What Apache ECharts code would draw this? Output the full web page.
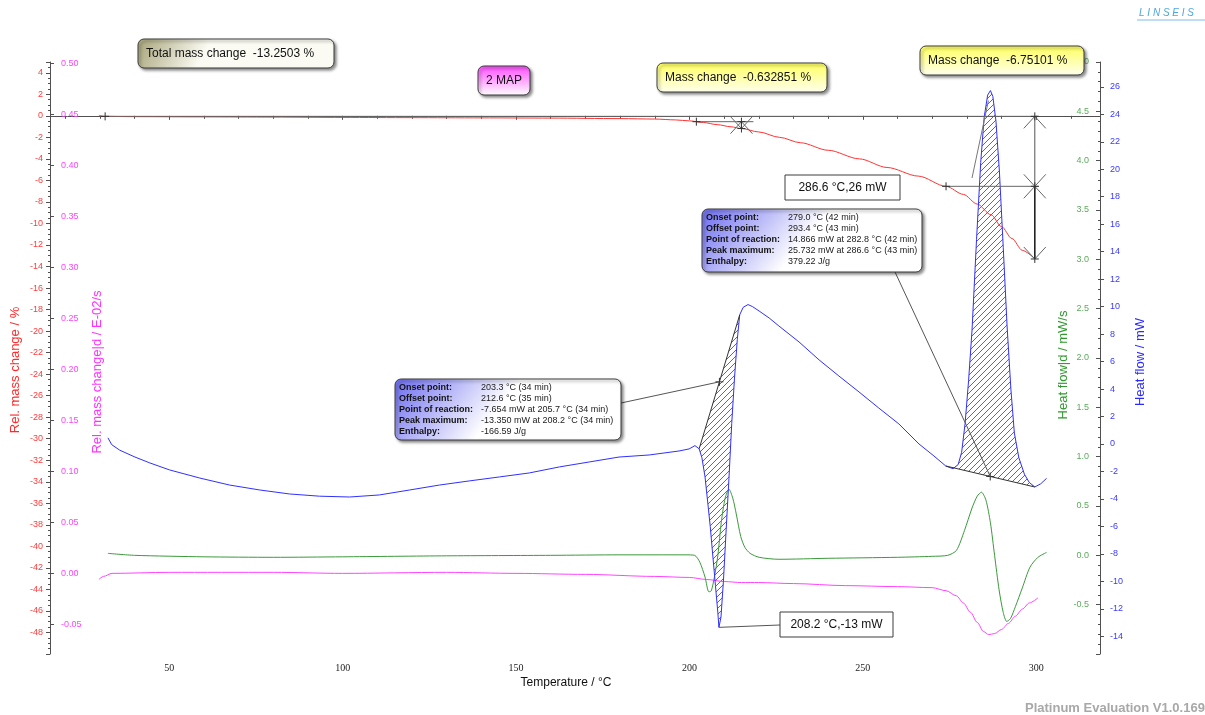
<!DOCTYPE html>
<html lang="en">
<head>
    <meta charset="UTF-8">
    <title>TG / DSC evaluation</title>
    <script src="https://cdn.jsdelivr.net/npm/echarts@6/dist/echarts.min.js"></script>
    <style>
        html, body { margin: 0; padding: 0; background: #fff; }
        #box { width: 1205px; height: 715px; }
    </style>
</head>
<body>
<div id="box"></div>
<script>
    // TG: rel. mass change / %
    var tgT   = [29.7, 31.5, 40, 60, 80, 100, 120, 140, 160, 180, 190, 196, 200, 204, 208, 212, 215, 220, 226, 232, 240, 249, 257, 266, 274, 279, 283, 287, 290, 293, 296, 299.6];
    var tgVal = [0.05, -0.05, -0.08, -0.1, -0.12, -0.15, -0.17, -0.19, -0.21, -0.26, -0.3, -0.38, -0.47, -0.62, -0.82, -1.02, -1.18, -1.5, -2.0, -2.5, -3.2, -4.0, -4.8, -5.6, -6.55, -7.3, -8.2, -9.2, -10.3, -11.4, -12.5, -13.3];

    // DTG: rel. mass change|d / E-02/s
    var dtgT   = [29.7, 31, 33.5, 50, 80, 100, 130, 150, 170, 190, 200, 205, 210, 215, 220, 230, 245, 260, 270, 274, 277, 279, 281, 283, 284.8, 286.3, 288, 290, 292, 294, 296, 298, 300.5];
    var dtgVal = [-0.006, -0.003, 0.0, 0.001, 0.001, 0.0, 0.001, 0.0, -0.001, -0.003, -0.004, -0.006, -0.008, -0.009, -0.009, -0.010, -0.012, -0.013, -0.014, -0.017, -0.022, -0.029, -0.038, -0.048, -0.057, -0.060, -0.059, -0.055, -0.049, -0.042, -0.035, -0.029, -0.024];

    // DSC: heat flow / mW
    var dscT   = [32.3, 33.4, 35.7, 40.1, 44.4, 50.1, 58.8, 67.4, 76.1, 84.7, 93.3, 102.0, 110.6, 119.3, 127.9, 136.5, 145.2, 153.8, 162.5, 171.1, 179.7, 188.4, 197.0, 199.9, 201.6,
                  202.8, 203.6, 204.5, 205.3, 206.0, 206.8, 207.5, 208.2, 208.5, 209.1, 209.8, 210.6, 211.4, 212.2, 213.0, 213.8, 214.5, 215.5, 216.9, 218.2,
                  220.1, 223.0, 225.8, 231.6, 237.4, 243.1, 248.9, 254.6, 260.4, 266.2, 270.5,
                  273.9, 276.0, 277.5, 278.5, 279.5, 280.5, 281.5, 282.8, 284.0, 285.0, 286.0, 286.8, 287.5, 288.4, 289.4, 290.5, 291.6, 292.7, 293.7, 295.0, 296.6, 298.0, 299.6, 301.3, 303.0];
    var dscVal = [0.45, -0.05, -0.45, -0.95, -1.38, -1.89, -2.48, -2.99, -3.35, -3.64, -3.8, -3.86, -3.71, -3.35, -2.99, -2.69, -2.40, -2.11, -1.67, -1.31, -0.95, -0.80, -0.51, -0.36, -0.12,
                  -0.35, -1.0, -2.4, -4.3, -6.0, -8.3, -10.3, -12.3, -13.35, -12.6, -10.0, -6.2, -2.5, 1.5, 4.8, 7.6, 9.4, 9.95, 10.15, 10.0,
                  9.68, 9.17, 8.59, 7.43, 6.12, 4.95, 3.79, 2.62, 1.46, 0.0, -0.87,
                  -1.6, -1.8, -1.5, -0.6, 1.5, 4.6, 8.3, 14.9, 20.5, 23.8, 25.4, 25.73, 25.3, 23.5, 19.8, 14.3, 8.6, 4.0, 0.8, -1.0, -2.2, -2.8, -3.13, -2.9, -2.5];

    // DDSC: heat flow|d / mW/s
    var ddscT   = [32.3, 40, 60, 80, 100, 130, 160, 180, 199, 201.5, 203.0, 204.5, 205.6, 206.3, 207.2, 208.2, 209.2, 210.3, 211.4, 212.5, 213.5, 214.8, 216.0, 217.5, 220.1, 225.8, 240, 260, 270,
                   274.5, 277.0, 279.3, 281.5, 283.0, 284.2, 285.5, 286.8, 288.0, 289.3, 290.5, 291.5, 292.6, 294.0, 296.0, 298.2, 300.5, 303.0];
    var ddscVal = [0.02, 0.0, -0.015, -0.02, -0.015, -0.005, 0.0, 0.005, 0.005, 0.0, -0.07, -0.22, -0.37, -0.36, -0.22, 0.0, 0.34, 0.58, 0.67, 0.58, 0.42, 0.19, 0.08, 0.02, -0.02, -0.04, -0.03, -0.02, -0.01,
                   0.0, 0.05, 0.25, 0.48, 0.60, 0.64, 0.56, 0.33, 0.0, -0.35, -0.58, -0.67, -0.64, -0.52, -0.33, -0.12, -0.02, 0.03];

    // TG evaluation points [°C, %]
    var tgStart = [31.5, -0.05];
    var step1 = [[202.0, -0.545], [215.0, -1.18]];
    var step2 = [[274.0, -6.55], [299.6, -13.3]];
    // DSC peak evaluation [°C, mW]
    var peak1Base = [[202.8, -0.35], [214.5, 9.4]];
    var peak2Base = [[273.9, -1.6], [299.6, -3.13]];
    var peak1Min = [208.5, -13.35];
    var peak2Max = [286.8, 25.73];

    function pairs(xs, ys) {
        var out = [];
        for (var i = 0; i < xs.length; i++) out.push([xs[i], ys[i]]);
        return out;
    }
    function slice(xs, ys, a, b) {
        var out = [];
        for (var i = 0; i < xs.length; i++) {
            if (xs[i] >= a - 1e-9 && xs[i] <= b + 1e-9) out.push([xs[i], ys[i]]);
        }
        return out;
    }

    // hatch pattern
    var hatchCanvas = document.createElement('canvas');
    hatchCanvas.width = 6;
    hatchCanvas.height = 6;
    var hc = hatchCanvas.getContext('2d');
    hc.strokeStyle = '#5a5a5a';
    hc.lineWidth = 0.9;
    hc.beginPath();
    hc.moveTo(0, 6); hc.lineTo(6, 0);
    hc.moveTo(-1, 1); hc.lineTo(1, -1);
    hc.moveTo(5, 7); hc.lineTo(7, 5);
    hc.stroke();
    var hatchFill = {image: hatchCanvas, repeat: 'repeat'};

    function hatchSeries(pts) {
        return {
            type: 'custom', xAxisIndex: 0, yAxisIndex: 3, z: 1, silent: true,
            data: [pts[0]],
            renderItem: function (params, api) {
                var poly = pts.map(function (p) { return api.coord(p); });
                return {type: 'polygon', shape: {points: poly}, style: {fill: hatchFill, stroke: null}};
            }
        };
    }

    var axisColor = '#505050';
    var lblFont = 'Liberation Sans';

    var chart = echarts.init(document.getElementById('box'));
    var option = {
        animation: false,
        backgroundColor: '#ffffff',
        grid: {left: 50, right: 105, top: 62, bottom: 61, containLabel: false, outerBoundsMode: 'none'},
        xAxis: {
            type: 'value', min: 15.6, max: 318.4, splitNumber: 6,
            axisLine: {lineStyle: {color: axisColor}},
            axisTick: {length: 4, lineStyle: {color: axisColor}},
            minorTick: {show: true, splitNumber: 5, length: 3, lineStyle: {color: axisColor}},
            axisLabel: {showMinLabel: false, showMaxLabel: false, color: '#222', fontFamily: 'Liberation Serif', fontSize: 10, margin: 9},
            splitLine: {show: false}
        },
        yAxis: [
            {   // red, rel. mass change
                type: 'value', position: 'left', min: -50, max: 5, interval: 2,
                axisLine: {show: true, lineStyle: {color: axisColor}},
                axisTick: {length: 4, lineStyle: {color: axisColor}},
                minorTick: {show: true, splitNumber: 4, length: 2, lineStyle: {color: axisColor}},
                axisLabel: {showMinLabel: false, showMaxLabel: false, color: '#ff3a3a', fontFamily: lblFont, fontSize: 9, margin: 7},
                splitLine: {show: false}
            },
            {   // magenta, DTG
                type: 'value', position: 'left', min: -0.079, max: 0.501, splitNumber: 12,
                axisLine: {show: false},
                axisTick: {show: true, inside: true, length: 4, lineStyle: {color: axisColor}},
                axisLabel: {inside: true, showMinLabel: false, showMaxLabel: false, color: '#ff44ff', fontFamily: lblFont, fontSize: 9, margin: 11,
                    formatter: function (v) { return v.toFixed(2); }},
                splitLine: {show: false}
            },
            {   // green, DDSC
                type: 'value', position: 'right', min: -1, max: 5, interval: 0.5,
                axisLine: {show: true, lineStyle: {color: axisColor}},
                axisTick: {inside: true, length: 4, lineStyle: {color: axisColor}},
                minorTick: {show: true, splitNumber: 5, length: 2, lineStyle: {color: axisColor}},
                axisLabel: {inside: true, showMinLabel: false, color: '#5aac5a', fontFamily: lblFont, fontSize: 9, margin: 11,
                    formatter: function (v) { return v.toFixed(1); }},
                splitLine: {show: false}
            },
            {   // blue, DSC
                type: 'value', position: 'right', min: -15.29, max: 27.81, splitNumber: 20,
                axisLine: {show: false},
                axisTick: {show: true, length: 4, lineStyle: {color: axisColor}},
                axisLabel: {showMinLabel: false, showMaxLabel: false, color: '#3a3aff', fontFamily: lblFont, fontSize: 9, margin: 10},
                splitLine: {show: false}
            }
        ],
        series: [
            {name: 'TG', type: 'line', xAxisIndex: 0, yAxisIndex: 0, data: pairs(tgT, tgVal), symbol: 'none', smooth: 0.3, smoothMonotone: 'x',
                lineStyle: {color: '#ff3333', width: 1}, z: 4},
            {name: 'DTG', type: 'line', xAxisIndex: 0, yAxisIndex: 1, data: pairs(dtgT, dtgVal), symbol: 'none', smooth: 0.3, smoothMonotone: 'x',
                lineStyle: {color: '#ff44ff', width: 1}, z: 3},
            {name: 'DDSC', type: 'line', xAxisIndex: 0, yAxisIndex: 2, data: pairs(ddscT, ddscVal), symbol: 'none', smooth: 0.25,
                lineStyle: {color: '#3c9a3c', width: 1}, z: 3},
            {name: 'DSC', type: 'line', xAxisIndex: 0, yAxisIndex: 3, data: pairs(dscT, dscVal), symbol: 'none',
                lineStyle: {color: '#3030ff', width: 1}, z: 4},
            hatchSeries(slice(dscT, dscVal, peak1Base[0][0], peak1Base[1][0])),
            hatchSeries(slice(dscT, dscVal, peak2Base[0][0], peak2Base[1][0]))
        ]
    };
    chart.setOption(option);

    // ---- annotations ----
    function P(si, pt) { return chart.convertToPixel({seriesIndex: si}, pt); }
    var g = [];
    function line(a, b, color, w) {
        g.push({type: 'line', z: 50, silent: true, shape: {x1: a[0], y1: a[1], x2: b[0], y2: b[1]},
            style: {stroke: color || '#555', lineWidth: w || 1}});
    }
    function plus(p) {
        line([p[0] - 4, p[1]], [p[0] + 4, p[1]], '#333');
        line([p[0], p[1] - 4], [p[0], p[1] + 4], '#333');
    }
    // up = tip points up (arms go down)
    function chevron(p, up) {
        var dy = up ? 12 : -12;
        line(p, [p[0] - 11, p[1] + dy], '#666');
        line(p, [p[0] + 11, p[1] + dy], '#666');
    }
    function box(x, y, w, h, c0, c1, txt, opt) {
        opt = opt || {};
        var noShadow = opt.shadow === false;
        g.push({type: 'rect', z: 100, silent: true, shape: {x: x, y: y, width: w, height: h, r: opt.r == null ? 6 : opt.r},
            style: {fill: c1 ? new echarts.graphic.LinearGradient(0, 0, opt.gx || 0, 1, [{offset: 0, color: c0}, {offset: 1, color: c1}]) : c0,
                stroke: '#3c3c3c', lineWidth: 1,
                shadowBlur: noShadow ? 0 : 3, shadowOffsetX: noShadow ? 0 : 2, shadowOffsetY: noShadow ? 0 : 2,
                shadowColor: noShadow ? 'rgba(0,0,0,0)' : 'rgba(0,0,0,0.45)'}});
        if (txt) {
            g.push({type: 'text', z: 101, silent: true, x: opt.center ? x + w / 2 : x + 8, y: y + h / 2,
                style: {text: txt, fill: '#111', font: '12px "Liberation Sans"', textAlign: opt.center ? 'center' : 'left', textVerticalAlign: 'middle'}});
        }
    }
    function infoBox(x, y, w, h, values) {
        box(x, y, w, h, '#6c6cf0', '#ffffff', null, {gx: 0.35});
        var labels = 'Onset point:\nOffset point:\nPoint of reaction:\nPeak maximum:\nEnthalpy:';
        g.push({type: 'text', z: 101, silent: true, x: x + 4, y: y + 3,
            style: {text: labels, fill: '#111', font: 'bold 9px "Liberation Sans"', lineHeight: 11, textAlign: 'left', textVerticalAlign: 'top'}});
        g.push({type: 'text', z: 101, silent: true, x: x + 86, y: y + 3,
            style: {text: values.join('\n'), fill: '#222', font: '9px "Liberation Sans"', lineHeight: 11, textAlign: 'left', textVerticalAlign: 'top'}});
    }
    function vtext(x, y, txt, color, size) {
        g.push({type: 'text', z: 60, silent: true, x: x, y: y, rotation: Math.PI / 2,
            style: {text: txt, fill: color, font: (size || 13) + 'px "Liberation Sans"', textAlign: 'center', textVerticalAlign: 'middle'}});
    }

    // TG mass change dimensions
    var p0 = P(0, tgStart), s1a = P(0, step1[0]), s1b = P(0, step1[1]), s2a = P(0, step2[0]), s2b = P(0, step2[1]);
    var xr = s2b[0];
    line(p0, [xr + 4, p0[1]], '#666');
    line(s2a, [xr + 4, s2a[1]], '#666');
    line([xr, p0[1]], [xr, s2a[1]], '#555');
    line([xr, s2a[1]], [xr, s2b[1]], '#222', 1.6);
    chevron([xr, p0[1]], true); chevron([xr, s2a[1]], false);
    chevron([xr, s2a[1]], true); chevron([xr, s2b[1]], false);
    plus(p0); plus(s2a); plus([xr, p0[1]]); plus([xr, s2a[1]]); plus(s2b);
    line(s1a, [s1b[0] + 12, s1a[1]], '#666');
    line([s1b[0], s1a[1]], s1b, '#555');
    chevron([s1b[0], s1a[1]], true); chevron(s1b, false);
    plus(s1a); plus(s1b); plus([s1b[0], s1a[1]]);

    // DSC peak baselines
    var b1a = P(3, peak1Base[0]), b1b = P(3, peak1Base[1]), b2a = P(3, peak2Base[0]), b2b = P(3, peak2Base[1]);
    line(b1a, b1b, '#333');
    line(b2a, b2b, '#333');
    var m1 = [(b1a[0] + b1b[0]) / 2, (b1a[1] + b1b[1]) / 2], m2 = [(b2a[0] + b2b[0]) / 2, (b2a[1] + b2b[1]) / 2];
    plus(m1); plus(m2);
    var pMin = P(3, peak1Min), pMax = P(3, peak2Max);

    // leaders
    line([621, 403], m1, '#555');
    line([895, 272], m2, '#555');
    line([780, 625], pMin, '#555');
    line([972, 178], [pMax[0] - 2, pMax[1] + 10], '#777');

    // boxes
    box(138, 39, 196, 29, '#a6a378', '#fbfbf3', 'Total mass change  -13.2503 %', {gx: 0.3});
    box(478, 66, 52, 29, '#ff4cff', '#ffffff', '2 MAP', {center: true});
    box(657, 63, 170, 29, '#ffff5e', '#fffff0', 'Mass change  -0.632851 %');
    box(920, 46, 164, 29, '#ffff5e', '#fffff0', 'Mass change  -6.75101 %');
    box(785, 175, 115, 25, '#ffffff', null, '286.6 \u00b0C,26 mW', {r: 0, shadow: false, center: true});
    box(780, 612, 113, 25, '#ffffff', null, '208.2 \u00b0C,-13 mW', {r: 0, shadow: false, center: true});
    infoBox(395, 379, 226, 61, ['203.3 \u00b0C (34 min)', '212.6 \u00b0C (35 min)', '-7.654 mW at 205.7 \u00b0C (34 min)', '-13.350 mW at 208.2 \u00b0C (34 min)', '-166.59 J/g']);
    infoBox(702, 209, 220, 63, ['279.0 \u00b0C (42 min)', '293.4 \u00b0C (43 min)', '14.866 mW at 282.8 \u00b0C (42 min)', '25.732 mW at 286.6 \u00b0C (43 min)', '379.22 J/g']);

    // axis names
    vtext(15, 370, 'Rel. mass change / %', '#ff2a2a');
    vtext(97, 372, 'Rel. mass change|d / E-02/s', '#ff33ff');
    vtext(1063, 365, 'Heat flow|d / mW/s', '#2e9a2e');
    vtext(1140, 362, 'Heat flow / mW', '#2a2aff');
    g.push({type: 'text', z: 60, silent: true, x: 566, y: 683,
        style: {text: 'Temperature / \u00b0C', fill: '#111', font: '12px "Liberation Sans"', textAlign: 'center', textVerticalAlign: 'middle'}});

    // logo and footer
    g.push({type: 'text', z: 60, silent: true, x: 1139, y: 13,
        style: {text: 'L I N S E I S', fill: '#4da6e0', font: 'italic 10px "Liberation Sans"', textAlign: 'left', textVerticalAlign: 'middle'}});
    line([1137, 20], [1205, 20], '#7dbde8');
    g.push({type: 'text', z: 60, silent: true, x: 1025, y: 708,
        style: {text: 'Platinum Evaluation V1.0.169', fill: '#a8a8a8', font: 'bold 13px "Liberation Sans"', textAlign: 'left', textVerticalAlign: 'middle'}});

    chart.setOption({graphic: g});
</script>
</body>
</html>
